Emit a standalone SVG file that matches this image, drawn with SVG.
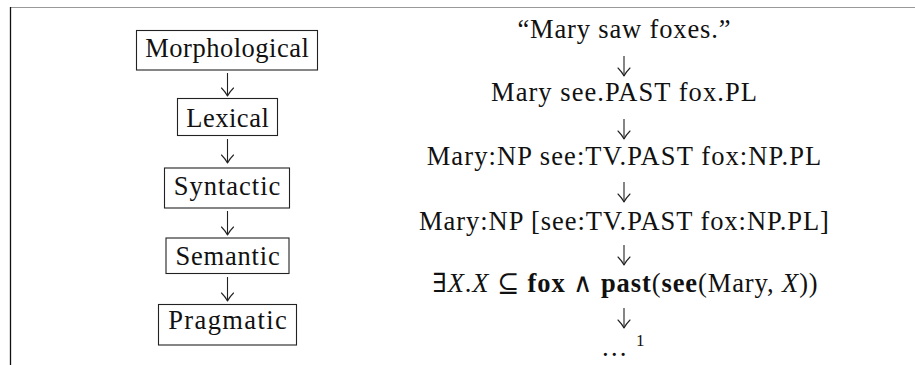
<svg xmlns="http://www.w3.org/2000/svg" width="915" height="365" viewBox="0 0 915 365">
<defs>
<marker id="arr" markerUnits="userSpaceOnUse" viewBox="-10 -8 12 16" markerWidth="12" markerHeight="16" refX="0" refY="0" orient="auto" overflow="visible">
<path d="M-8,-6 C-5,-3 -2,-1 0,0 M-8,6 C-5,3 -2,1 0,0" fill="none" stroke="#222" stroke-width="1.1" stroke-linecap="round"/>
</marker>
<style>
text{font-size:26.5px;fill:#111;}
.box{fill:#fff;stroke:#222;stroke-width:1.1;}
.conn line{stroke:#222;stroke-width:1.1;marker-end:url(#arr);}
.b{font-weight:bold;}
.i{font-style:italic;}
</style>
</defs>
<rect width="915" height="365" fill="#fff"/>
<line x1="10" y1="7.5" x2="915" y2="7.5" stroke="#999" stroke-width="1.2"/>
<line x1="10.5" y1="7" x2="10.5" y2="365" stroke="#111" stroke-width="1.3"/>

<g font-family="Liberation Serif, DejaVu Serif, serif">
<g id="morphological">
<rect class="box" x="136.5" y="30.5" width="181" height="39.5"/>
<text x="227.3" y="57" text-anchor="middle" letter-spacing="0.5">Morphological</text>
</g>
<g id="lexical">
<rect class="box" x="177.5" y="98.5" width="100" height="37"/>
<text x="227.8" y="127" text-anchor="middle" letter-spacing="0.5">Lexical</text>
</g>
<g id="syntactic">
<rect class="box" x="164.5" y="168" width="125" height="40"/>
<text x="227.5" y="195" text-anchor="middle" letter-spacing="1">Syntactic</text>
</g>
<g id="semantic">
<rect class="box" x="166" y="238" width="123" height="35.5"/>
<text x="228" y="265" text-anchor="middle" letter-spacing="0.8">Semantic</text>
</g>
<g id="pragmatic">
<rect class="box" x="158.5" y="304.5" width="138" height="40.5"/>
<text x="228.2" y="329" text-anchor="middle" letter-spacing="1.4">Pragmatic</text>
</g>

<g id="utterance"><text x="624.4" y="38" text-anchor="middle" letter-spacing="0.85">“Mary saw foxes.”</text></g>
<g id="morphemes"><text x="624.5" y="101" text-anchor="middle" letter-spacing="1.05">Mary see.PAST fox.PL</text></g>
<g id="tagged"><text x="624.5" y="165" text-anchor="middle" letter-spacing="1.1">Mary:NP see:TV.PAST fox:NP.PL</text></g>
<g id="parsed"><text x="624.5" y="230" text-anchor="middle" letter-spacing="0.95">Mary:NP [see:TV.PAST fox:NP.PL]</text></g>
<g id="logical"><text x="625.5" y="292" text-anchor="middle" letter-spacing="0.9">∃<tspan class="i">X</tspan>.<tspan class="i">X</tspan> ⊆ <tspan class="b">fox</tspan> ∧ <tspan class="b">past</tspan>(<tspan class="b">see</tspan>(Mary, <tspan class="i">X</tspan>))</text></g>
<g id="ellipsis"><text x="601" y="356">…</text><text x="636" y="346" style="font-size:17px">1</text></g>
</g>

<g id="connectors" class="conn">
<line x1="227.5" y1="73" x2="227.5" y2="96"/>
<line x1="227.5" y1="139" x2="227.5" y2="163"/>
<line x1="227.5" y1="211" x2="227.5" y2="235"/>
<line x1="227.5" y1="277" x2="227.5" y2="301"/>
<line x1="624" y1="56" x2="624" y2="76"/>
<line x1="624" y1="119" x2="624" y2="139"/>
<line x1="624" y1="182" x2="624" y2="202"/>
<line x1="624" y1="245" x2="624" y2="265"/>
<line x1="624" y1="308" x2="624" y2="328"/>
</g>
</svg>
